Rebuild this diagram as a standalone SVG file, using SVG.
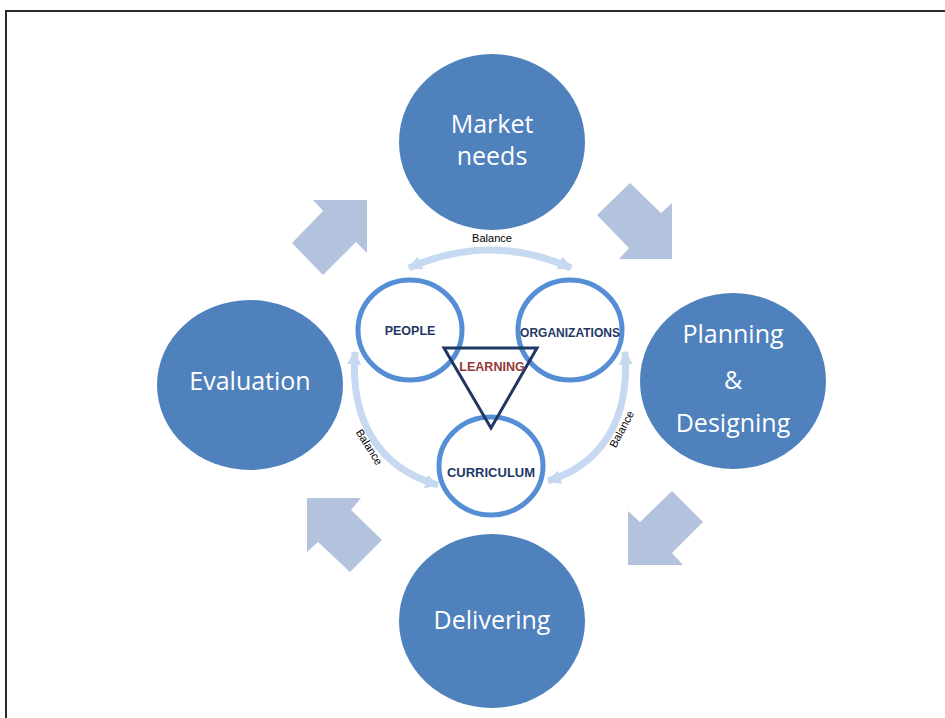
<svg xmlns="http://www.w3.org/2000/svg" width="945" height="718" viewBox="0 0 945 718">
<style>
.big{fill:#4F81BD;}
.bt{fill:#FFFFFF;font-family:"Open Sans","Liberation Sans",sans-serif;font-size:25px;text-anchor:middle;}
.blk{fill:#B3C3DE;}
.ring{fill:#FFFFFF;stroke:#558ED5;stroke-width:5;}
.it{fill:#1F3864;font-family:"Liberation Sans",Arial,sans-serif;font-weight:bold;font-size:12.5px;text-anchor:middle;}
.bal{fill:none;stroke:#C6D9F1;stroke-width:7;marker-start:url(#ah);marker-end:url(#ah);}
.bl{fill:#000000;font-family:"Liberation Sans",Arial,sans-serif;font-size:11px;text-anchor:middle;}
</style>
<defs>
<marker id="ah" viewBox="0 0 10 10" refX="9" refY="5" markerUnits="userSpaceOnUse" markerWidth="14" markerHeight="18" orient="auto-start-reverse">
<path d="M0,0 L10,5 L0,10 z" fill="#C6D9F1"/>
</marker>
</defs>
<rect x="6" y="11" width="1000" height="1000" fill="#FFFFFF" stroke="#2A2A2A" stroke-width="2"/>

<g id="block-arrows">
<polygon class="blk" points="367,200 313,200 323,211 292,243 323,275 356,242 367,253"/>
<polygon class="blk" points="630,183 661,213 672,203 672,259 619,259 629,248 597,215"/>
<polygon class="blk" points="672,491 703,522 672,553 683,565 628,565 628,511 640,522"/>
<polygon class="blk" points="307,498 361,498 351,510 382,540 350,572 318,542 307,552"/>
</g>

<g id="market-needs">
<ellipse class="big" cx="492" cy="142" rx="93" ry="88"/>
<text class="bt" x="492" y="133">Market</text>
<text class="bt" x="492" y="165">needs</text>
</g>
<g id="planning-designing">
<ellipse class="big" cx="733" cy="381" rx="93" ry="88"/>
<text class="bt" x="733" y="343">Planning</text>
<text class="bt" x="733" y="389">&amp;</text>
<text class="bt" x="733" y="432">Designing</text>
</g>
<g id="delivering">
<ellipse class="big" cx="492" cy="621" rx="93" ry="87"/>
<text class="bt" x="492" y="629">Delivering</text>
</g>
<g id="evaluation">
<ellipse class="big" cx="250" cy="385" rx="93" ry="85"/>
<text class="bt" x="250" y="390">Evaluation</text>
</g>

<g id="connectors">
<path class="bal" d="M409,268 Q490,232 571,268"/>
<path class="bal" d="M355,352 C350,420 378,468 438,485"/>
<path class="bal" d="M625,352 C630,420 602,464 548,481"/>
<text class="bl" x="492" y="242">Balance</text>
<text class="bl" transform="translate(366,449) rotate(58)" x="0" y="0">Balance</text>
<text class="bl" transform="translate(625,431) rotate(-62)" x="0" y="0">Balance</text>
</g>

<g id="people">
<ellipse class="ring" cx="410" cy="330" rx="52" ry="50"/>
<text class="it" x="410" y="335">PEOPLE</text>
</g>
<g id="organizations">
<ellipse class="ring" cx="570" cy="330" rx="52" ry="50"/>
<text class="it" x="570" y="337" style="font-size:12px">ORGANIZATIONS</text>
</g>
<g id="curriculum">
<ellipse class="ring" cx="491" cy="466" rx="52" ry="49"/>
<text class="it" x="491" y="477" style="font-size:13px">CURRICULUM</text>
</g>
<g id="learning">
<polygon points="444,348 537,348 491,428" fill="none" stroke="#1F3864" stroke-width="3" stroke-linejoin="miter"/>
<text class="it" x="492" y="371" style="fill:#953735">LEARNING</text>
</g>
</svg>
